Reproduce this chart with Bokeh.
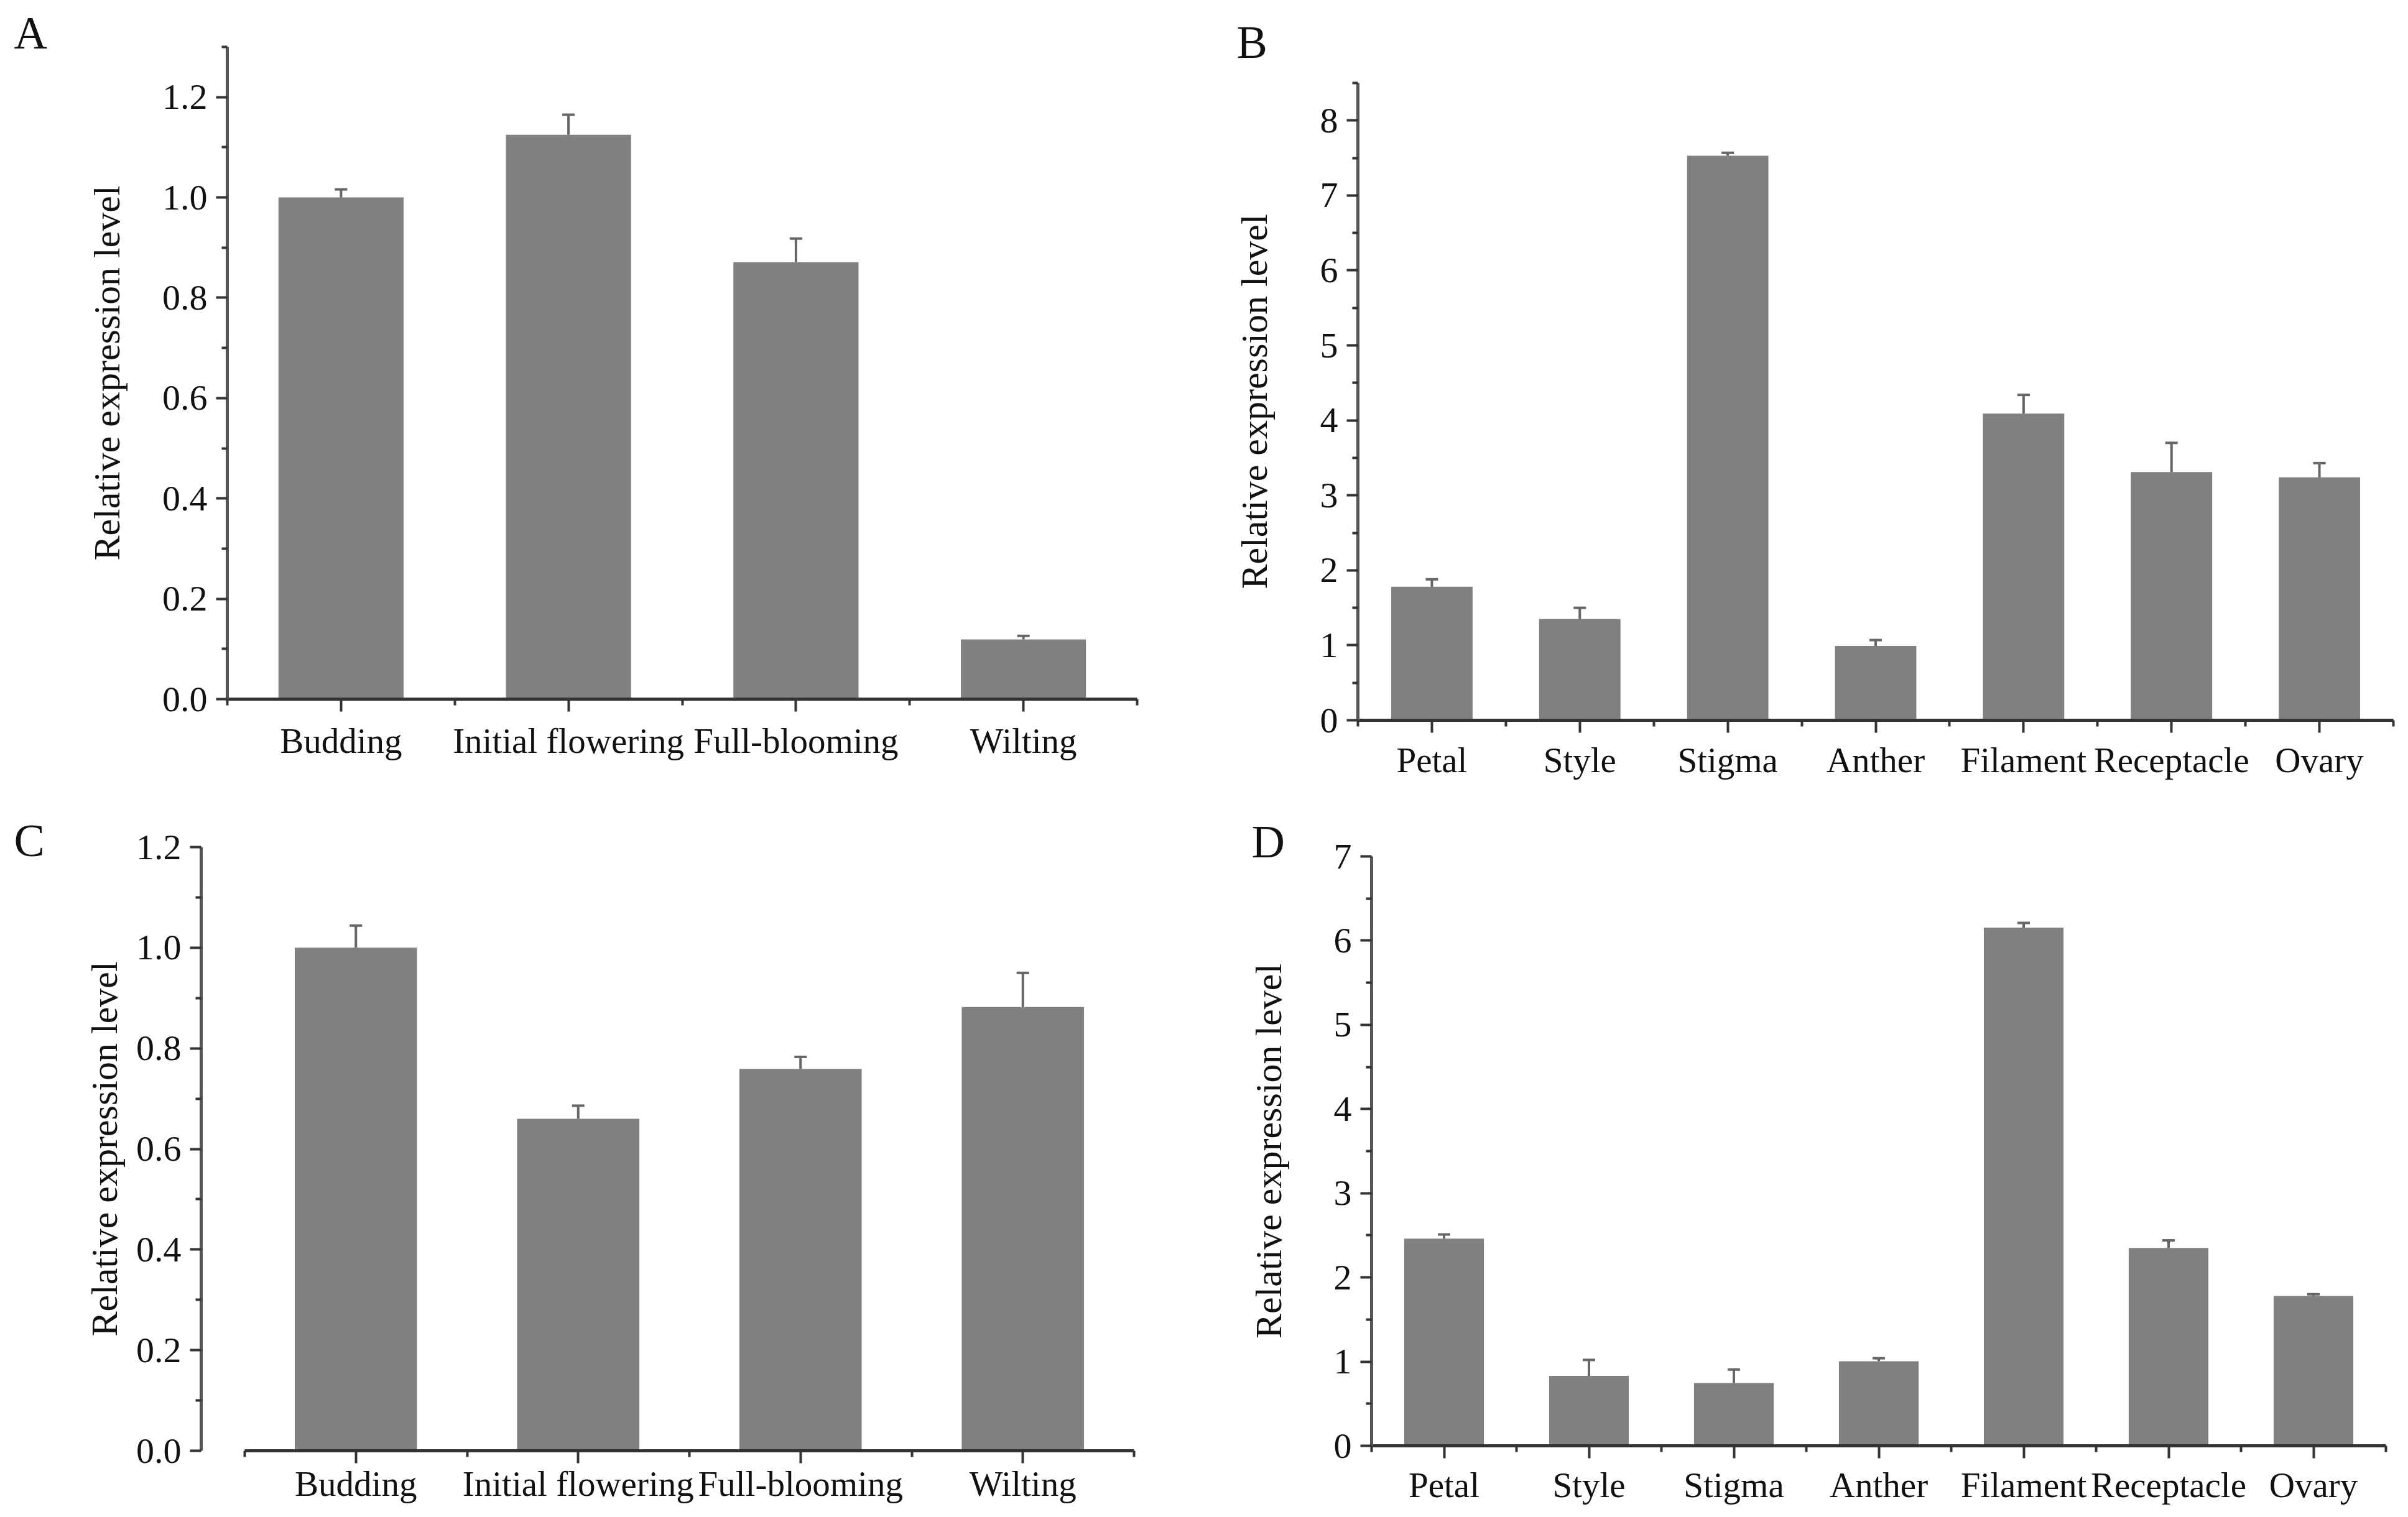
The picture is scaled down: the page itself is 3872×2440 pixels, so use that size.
from bokeh.plotting import figure
from bokeh.layouts import column, row
from bokeh.models import Range1d, FixedTicker, PrintfTickFormatter, ColumnDataSource
from bokeh.embed import file_html
from bokeh.resources import INLINE

# ---------------- data ----------------
stage_labels = ["Budding", "Initial flowering", "Full-blooming", "Wilting"]
tissue_labels = ["Petal", "Style", "Stigma", "Anther", "Filament", "Receptacle", "Ovary"]

a_mean = [1.000, 1.125, 0.871, 0.119]
a_err = [0.016, 0.040, 0.047, 0.007]

b_mean = [1.78, 1.35, 7.53, 0.99, 4.09, 3.31, 3.24]
b_err = [0.10, 0.15, 0.04, 0.08, 0.25, 0.39, 0.19]

c_mean = [1.000, 0.660, 0.759, 0.882]
c_err = [0.044, 0.026, 0.024, 0.068]

d_mean = [2.46, 0.83, 0.746, 1.005, 6.155, 2.35, 1.78]
d_err = [0.05, 0.19, 0.16, 0.035, 0.055, 0.09, 0.02]

a_yticks = [0, 0.2, 0.4, 0.6, 0.8, 1.0, 1.2]
a_yminor = [0.1, 0.3, 0.5, 0.7, 0.9, 1.1, 1.3]
b_yticks = [0, 1, 2, 3, 4, 5, 6, 7, 8]
b_yminor = [0.5, 1.5, 2.5, 3.5, 4.5, 5.5, 6.5, 7.5, 8.5]
c_yticks = [0, 0.2, 0.4, 0.6, 0.8, 1.0, 1.2]
c_yminor = [0.1, 0.3, 0.5, 0.7, 0.9, 1.1]
d_yticks = [0, 1, 2, 3, 4, 5, 6, 7]
d_yminor = [0.5, 1.5, 2.5, 3.5, 4.5, 5.5, 6.5]

# ---------------- style ----------------
FONT = "Liberation Serif"
BAR = "#808080"
ERR = "#666666"
BAR_W = 0.55
LETTER_PX = 74

# page layout (page pixel coordinates)
PANELS = {
    "A": dict(ox=0, oy=0, w=1940, h=1256, L=365, R=1828, T=75, B=1124,
              x0=0.5, x1=4.5, y0=0.0, y1=1.3, letter=(22, 78), ylab_standoff=53,
              xlab_standoff=15, fmt="%.1f"),
    "B": dict(ox=1940, oy=0, w=1914, h=1256, L=2183, R=3848, T=133, B=1158,
              x0=0.5, x1=7.5, y0=0.0, y1=8.5, letter=(1988, 81), ylab_standoff=70,
              xlab_standoff=12, fmt="%d"),
    "C": dict(ox=0, oy=1256, w=1940, h=1166, L=323, R=1823, T=1362, B=2333,
              x0=0.5 - 70 / 357.5, x1=4.5, y0=0.0, y1=1.2, letter=(22, 1377), ylab_standoff=15,
              xlab_standoff=1, fmt="%.1f"),
    "D": dict(ox=1940, oy=1256, w=1914, h=1166, L=2205, R=3836, T=1377, B=2330,
              x0=0.5, x1=7.5, y0=0.0, y1=7.0, letter=(2012, 1379), ylab_standoff=69,
              xlab_standoff=11, fmt="%d"),
}


def make_panel(key, labels, means, errs, yticks, yminor):
    c = PANELS[key]
    n = len(labels)
    p = figure(width=c["w"], height=c["h"],
               x_range=Range1d(c["x0"], c["x1"]), y_range=Range1d(c["y0"], c["y1"]),
               output_backend="svg", toolbar_location=None,
               min_border_left=c["L"] - c["ox"],
               min_border_right=c["ox"] + c["w"] - c["R"],
               min_border_top=c["T"] - c["oy"],
               min_border_bottom=c["oy"] + c["h"] - c["B"])
    p.outline_line_color = None
    p.grid.visible = False
    p.background_fill_color = "white"
    p.border_fill_color = "white"

    xs = list(range(1, n + 1))
    tops = [m + e for m, e in zip(means, errs)]
    src = ColumnDataSource(dict(x=xs, mean=means, top=tops))
    p.vbar(x="x", top="mean", bottom=0, width=BAR_W, source=src,
           fill_color=BAR, line_color=None)
    p.segment(x0="x", y0="mean", x1="x", y1="top", source=src,
              line_color=ERR, line_width=4)
    p.scatter(x="x", y="top", source=src, marker="dash", size=20,
              line_color=ERR, line_width=4)

    # x axis
    xa = p.xaxis[0]
    xa.ticker = FixedTicker(ticks=xs, minor_ticks=[i + 0.5 for i in range(0, n + 1)])
    xa.major_label_overrides = {i: lab for i, lab in zip(xs, labels)}
    xa.bounds = (0.5, n + 0.5)
    xa.axis_line_color = "#333333"
    xa.axis_line_width = 5
    xa.major_tick_line_color = "#333333"
    xa.minor_tick_line_color = "#333333"
    xa.major_tick_line_width = 4
    xa.minor_tick_line_width = 4
    xa.major_tick_in = 0
    xa.major_tick_out = 20
    xa.minor_tick_in = 0
    xa.minor_tick_out = 10
    xa.major_label_text_font = FONT
    xa.major_label_text_font_size = "57px"
    xa.major_label_text_color = "#111111"
    xa.major_label_standoff = c["xlab_standoff"]

    # y axis
    ya = p.yaxis[0]
    ya.ticker = FixedTicker(ticks=yticks, minor_ticks=yminor)
    ya.formatter = PrintfTickFormatter(format=c["fmt"])
    ya.axis_line_color = "#555555"
    ya.axis_line_width = 5
    ya.major_tick_line_color = "#333333"
    ya.minor_tick_line_color = "#333333"
    ya.major_tick_line_width = 4
    ya.minor_tick_line_width = 4
    ya.major_tick_in = 0
    ya.major_tick_out = 18
    ya.minor_tick_in = 0
    ya.minor_tick_out = 9
    ya.major_label_text_font = FONT
    ya.major_label_text_font_size = "58px"
    ya.major_label_text_color = "#111111"
    ya.major_label_standoff = 14
    ya.axis_label = "Relative expression level"
    ya.axis_label_text_font = FONT
    ya.axis_label_text_font_size = "60px"
    ya.axis_label_text_font_style = "normal"
    ya.axis_label_text_color = "#111111"
    ya.axis_label_standoff = c["ylab_standoff"]

    # panel letter, drawn as the figure title and shifted to the top-left corner
    px, py = c["letter"]
    top_border = c["T"] - c["oy"]
    em_bottom = (py - c["oy"]) + 0.216 * LETTER_PX
    text_h = 1.16 * LETTER_PX
    t = p.title
    t.text = key
    t.text_font = FONT
    t.text_font_size = f"{LETTER_PX}px"
    t.text_font_style = "normal"
    t.text_color = "#111111"
    t.align = "left"
    t.offset = px - c["L"]
    so_bottom = 2 * (top_border - em_bottom)
    if 2 + text_h + so_bottom <= top_border:
        t.vertical_align = "bottom"
        t.standoff = so_bottom
    else:
        t.vertical_align = "top"
        t.standoff = top_border - 2 - text_h
    return p


pA = make_panel("A", stage_labels, a_mean, a_err, a_yticks, a_yminor)
pB = make_panel("B", tissue_labels, b_mean, b_err, b_yticks, b_yminor)
pC = make_panel("C", stage_labels, c_mean, c_err, c_yticks, c_yminor)
pD = make_panel("D", tissue_labels, d_mean, d_err, d_yticks, d_yminor)

layout = column(row(column(pA), column(pB), spacing=0),
                row(column(pC), column(pD), spacing=0), spacing=0)
open("out.html", "w").write(file_html(layout, INLINE))
